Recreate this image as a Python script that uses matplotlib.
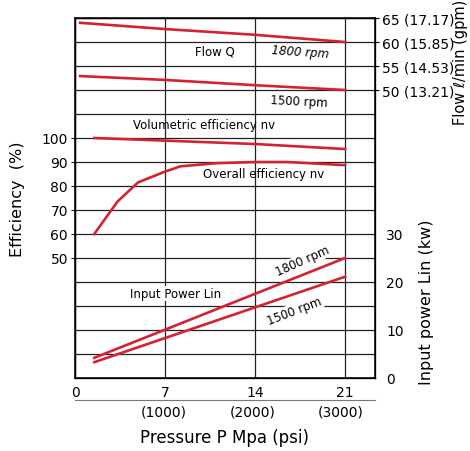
import matplotlib
matplotlib.use("Agg")
import matplotlib.pyplot as plt

# pressure (MPa) and curve values
flow_p = [0.4, 7, 14, 21]
flow_1800 = [64.0, 62.7, 61.5, 60.0]
flow_1500 = [52.9, 52.1, 51.0, 50.0]

vol_p = [1.5, 7, 14, 21]
vol_eff = [100.0, 98.9, 97.5, 95.4]

ovr_p = [1.5, 3.3, 4.9, 7, 8.2, 11, 14, 16.5, 21]
ovr_eff = [60.0, 73.5, 81.5, 86.0, 88.2, 89.5, 90.0, 90.0, 88.7]

pow_p = [1.5, 21]
pow_1800 = [4.2, 25.0]
pow_1500 = [3.3, 21.1]

flow_ticks = [50, 55, 60, 65]
flow_labels = ['50 (13.21)', '55 (14.53)', '60 (15.85)', '65 (17.17)']
eff_ticks = [50, 60, 70, 80, 90, 100]
pow_ticks = [0, 10, 20, 30]
p_ticks = [0, 7, 14, 21]
psi_ticks = [1000, 2000, 3000]

RED = '#d42232'
LW = 1.9

fig = plt.figure(figsize=(4.7, 4.52), dpi=100)
ax = fig.add_axes([75/470, 73/452, 300/470, 360/452])

# main axis: power (kW), grid every 5 kW
ax.set_xlim(0, 23.33)
ax.set_ylim(0, 75)
ax.set_yticks(range(0, 76, 5), minor=False)
ax.set_xticks(p_ticks)
ax.grid(True, color='#222222', lw=0.9)
ax.tick_params(axis='x', length=0, pad=5, labelsize=10)
ax.tick_params(axis='y', length=0, left=False, labelleft=False)
for s in ax.spines.values():
    s.set_linewidth(1.1)

# efficiency axis on the left (eff = 2 * kW)
ax_eff = ax.twinx()
ax_eff.set_ylim(0, 150)
ax_eff.yaxis.set_ticks_position('left')
ax_eff.set_yticks(eff_ticks)
ax_eff.tick_params(axis='y', length=3, pad=2, labelsize=10)

# power labels on the right
ax_pow = ax.twinx()
ax_pow.set_ylim(0, 75)
ax_pow.set_yticks(pow_ticks)
ax_pow.tick_params(axis='y', length=0, pad=8, labelsize=10)

# flow labels on the right (flow = kW - 10)
ax_flow = ax.twinx()
ax_flow.set_ylim(-10, 65)
ax_flow.set_yticks(flow_ticks)
ax_flow.set_yticklabels(flow_labels)
ax_flow.tick_params(axis='y', length=3, pad=2, labelsize=10)

# psi scale under the MPa scale
ax_psi = ax.twiny()
ax_psi.set_xlim(0, 23.33 * 145.04)
ax_psi.xaxis.set_ticks_position('bottom')
ax_psi.spines['bottom'].set_position(('outward', 16))
for side in ['top', 'left', 'right']:
    ax_psi.spines[side].set_visible(False)
ax_psi.spines['bottom'].set_color('#777777')
ax_psi.set_xticks(psi_ticks)
ax_psi.set_xticklabels(['(%d)' % v for v in psi_ticks])
ax_psi.tick_params(axis='x', length=0, pad=3, labelsize=10)

# curves
ax_flow.plot(flow_p, flow_1800, color=RED, lw=LW)
ax_flow.plot(flow_p, flow_1500, color=RED, lw=LW)
ax_eff.plot(vol_p, vol_eff, color=RED, lw=LW)
ax_eff.plot(ovr_p, ovr_eff, color=RED, lw=LW)
ax_pow.plot(pow_p, pow_1800, color=RED, lw=LW)
ax_pow.plot(pow_p, pow_1500, color=RED, lw=LW)

# annotations
fs = 8.5
ax_flow.text(10.9, 58.1, 'Flow Q', fontsize=fs, ha='center', va='center')
ax_flow.text(17.5, 58.0, '1800 rpm', fontsize=fs, ha='center', va='center',
             style='italic', rotation=-4)
ax_flow.text(17.4, 47.7, '1500 rpm', fontsize=fs, ha='center', va='center',
             rotation=-3)
ax_eff.text(10.0, 105.5, 'Volumetric efficiency nv', fontsize=fs,
            ha='center', va='center')
ax_eff.text(14.7, 85.0, 'Overall efficiency nv', fontsize=fs,
            ha='center', va='center')
ax_pow.text(17.7, 24.4, '1800 rpm', fontsize=fs, ha='center', va='center',
            rotation=24, bbox=dict(fc='white', ec='none', pad=0.5))
ax_pow.text(17.1, 14.1, '1500 rpm', fontsize=fs, ha='center', va='center',
            rotation=21, bbox=dict(fc='white', ec='none', pad=0.5))
ax_pow.text(7.8, 17.6, 'Input Power Lin', fontsize=fs, ha='center',
            va='center', bbox=dict(fc='white', ec='none', pad=0.5))

# axis titles
fig.text(18/470, 1 - 199/452, 'Efficiency  (%)', rotation=90, fontsize=11.5,
         ha='center', va='center')
fig.text(427/470, 1 - 302/452, 'Input power Lin (kw)', rotation=90,
         fontsize=11.5, ha='center', va='center')
fig.text(460/470, 1 - 62/452, 'Flow \u2113/min (gpm)', rotation=90,
         fontsize=10.5, ha='center', va='center')
fig.text(225/470, 1 - 438/452, 'Pressure P Mpa (psi)', fontsize=12,
         ha='center', va='center')

fig.savefig('out.png', dpi=100)
